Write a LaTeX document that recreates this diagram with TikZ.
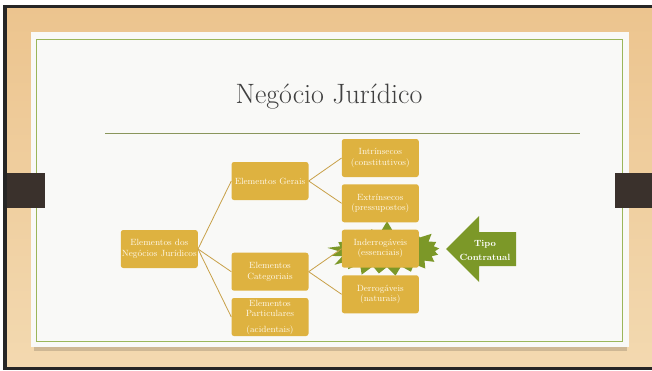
\documentclass[tikz,border=0pt]{standalone}
\usetikzlibrary{shapes.symbols}
\definecolor{woodA}{RGB}{236,196,142}
\definecolor{woodB}{RGB}{243,217,176}
\definecolor{tabc}{RGB}{58,49,44}
\definecolor{panel}{RGB}{249,249,247}
\definecolor{framec}{RGB}{155,182,90}
\definecolor{rulec}{RGB}{138,150,92}
\definecolor{gold}{RGB}{222,178,64}
\definecolor{linkc}{RGB}{200,160,72}
\definecolor{leaf}{RGB}{124,152,40}
\definecolor{titlec}{RGB}{64,64,64}
\definecolor{boxtext}{RGB}{255,248,232}
\begin{document}
\begin{tikzpicture}[x=1pt,y=-1pt,
  box/.style={fill=gold, rounded corners=2.5pt, minimum width=77pt, minimum height=38pt,
    text=boxtext, font=\fontsize{9}{10.5}\selectfont, align=center, inner sep=1pt},
  link/.style={draw=linkc, line width=0.8pt}]
\useasboundingbox (0,0) rectangle (652,370);
% background wood
\fill[white] (0,0) rectangle (652,370);
\shade[top color=woodA, bottom color=woodB] (5,5) rectangle (652,368);
\fill[black!85] (3,5) rectangle (652,8);
\fill[black!85] (3,5) rectangle (7,370);
\fill[black!85] (3,367) rectangle (652,370);
% shadow and panel
\fill[black, opacity=0.15] (34,346) rectangle (627,350.5);
\fill[panel] (31,32) rectangle (629,347);
\draw[framec, line width=0.9pt] (36,39) rectangle (622,341);
% tabs
\fill[tabc] (7,173) rectangle (45,208);
\fill[tabc] (615,173) rectangle (652,208);
% title and rule
\node[text=titlec, font=\fontsize{28}{32}\selectfont] (title) at (329,97) {Negócio Jurídico};
\draw[rulec, line width=0.7pt] (105,133) -- (580,133);
% starburst
\node[starburst, fill=leaf, draw=none, minimum width=122pt, minimum height=60pt,
  starburst points=21, starburst point height=13pt, random starburst=7] (burst) at (387,250) {};
% boxes
\node[box] (dos) at (159.3,249) {Elementos dos\\Negócios Jurídicos};
\node[box] (gerais) at (270,181) {Elementos Gerais};
\node[box] (cat) at (270,271.7) {Elementos\\Categoriais};
\node[box] (part) at (270,317) {Elementos\\Particulares\\[5pt](acidentais)};
\node[box] (intr) at (380.3,158) {Intrínsecos\\(constitutivos)};
\node[box] (extr) at (380.3,203.3) {Extrínsecos\\(pressupostos)};
\node[box] (inder) at (380.3,248.7) {Inderrogáveis\\(essenciais)};
\node[box] (derr) at (380.3,294.3) {Derrogáveis\\(naturais)};
% links
\draw[link] (dos.east) -- (gerais.west);
\draw[link] (dos.east) -- (cat.west);
\draw[link] (dos.east) -- (part.west);
\draw[link] (gerais.east) -- (intr.west);
\draw[link] (gerais.east) -- (extr.west);
\draw[link] (cat.east) -- (inder.west);
\draw[link] (cat.east) -- (derr.west);
% arrow
\fill[leaf] (446,249) -- (479,216) -- (479,232) -- (516,232) -- (516,266) -- (479,266) -- (479,282) -- cycle;
\node[text=white, font=\bfseries\fontsize{9}{14}\selectfont, align=center] (tipo) at (485,250) {Tipo\\Contratual};
\end{tikzpicture}
\end{document}
